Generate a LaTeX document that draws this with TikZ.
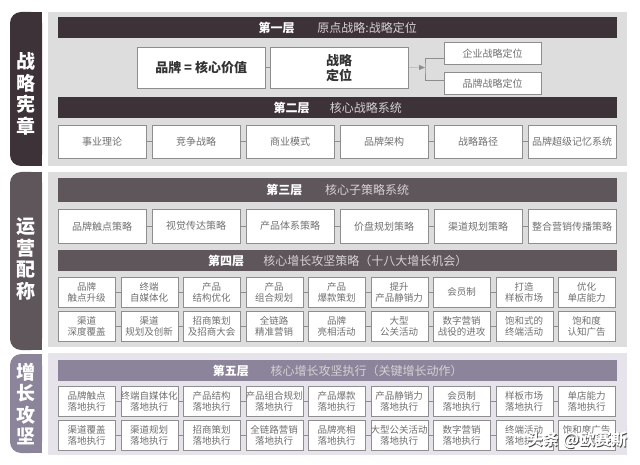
\documentclass[tikz,border=0pt]{standalone}
\usepackage{fontspec}
\setmainfont{Noto Sans CJK SC}
\usepackage{xcolor}
\usepackage{tikz}
\usetikzlibrary{positioning,calc,arrows.meta}
\definecolor{tabone}{HTML}{3C3237}
\definecolor{tabtwo}{HTML}{5F565B}
\definecolor{tabthree}{HTML}{8B849A}
\definecolor{panelbg}{HTML}{DDDDDD}
\definecolor{panelbgc}{HTML}{E6E4EA}
\definecolor{boxline}{HTML}{8E8E8E}
\definecolor{boxtext}{HTML}{707070}
\definecolor{hdrrest}{HTML}{D6D1D4}

\begin{document}
\begin{tikzpicture}[x=1pt,y=-1pt,
                every node/.append style = {inner sep=0pt},
                tabtext/.style = {text=white,align=center,font=\fontsize{19}{21.5}\selectfont\bfseries},
                bar/.style = {anchor=north west,minimum width=559pt,minimum height=21pt,text=white,font=\fontsize{12}{14}\selectfont},
                keybox/.style = {anchor=north west,draw=boxline,fill=white,minimum height=41pt,align=center,text=black!80,font=\fontsize{13}{15}\selectfont\bfseries},
                bigbox/.style = {anchor=north west,draw=boxline,fill=white,minimum width=88pt,minimum height=33pt,text=boxtext,font=\fontsize{10}{12}\selectfont},
                smallbox/.style = {anchor=north west,draw=boxline,fill=white,minimum width=57pt,minimum height=30pt,align=center,text=boxtext,font=\fontsize{9.5}{11.5}\selectfont},
                link/.style = {draw=boxline}]
            \useasboundingbox (0,0) rectangle (640,465);
            % side tabs and panels
            \fill[tabone,rounded corners=11pt] (10,12) rectangle (42,166);
            \fill[tabone] (26,12) rectangle (42,166);
            \fill[tabtwo,rounded corners=11pt] (10,172) rectangle (42,350);
            \fill[tabtwo] (26,172) rectangle (42,350);
            \fill[tabthree,rounded corners=11pt] (10,354) rectangle (42,453);
            \fill[tabthree] (26,354) rectangle (42,453);
            \fill[panelbg] (48,12) rectangle (627,166);
            \fill[panelbg] (48,172) rectangle (627,347);
            \fill[panelbgc] (48,353) rectangle (627,455);
            \node[tabtext] (ta) at (26,94) {战\\略\\宪\\章};
            \node[tabtext] (tb) at (26,259) {运\\营\\配\\称};
            \node[tabtext] (tc) at (26,404) {增\\长\\攻\\坚};
            % first layer
            \node[bar,fill=tabone] (h1) at (58,17) {\textbf{第一层}\hspace{1.9em}{\color{hdrrest}原点战略:战略定位}};
            \node[keybox,minimum width=128pt] (core) at (137,47) {品牌 = 核心价值};
            \node[keybox,minimum width=138pt] (pos) at (270,47) {战略\\定位};
            \draw[link] (core) -- (pos);
            \node[bigbox,minimum width=97pt,minimum height=22pt] (q1) at (444,42) {企业战略定位};
            \node[bigbox,minimum width=97pt,minimum height=22pt,below=8pt of q1] (q2) {品牌战略定位};
            \coordinate (fork) at (425,67.5);
            \draw[link,-{Triangle[length=6pt,width=5pt]},boxline] (pos) -- (fork);
            \draw[link] ($(q1.west)+(0,5)$) -| (fork) |- ($(q2.west)+(0,-3)$);
            % second layer
            \node[bar,fill=tabone] (h2) at (58,97) {\textbf{第二层}\hspace{1.7em}{\color{hdrrest}核心战略系统}};
            \foreach \name [count=\i from 0] in {事业理论,竞争战略,商业模式,品牌架构,战略路径,品牌超级记忆系统}
                \node[bigbox] (s\i) at ({58+94*\i},125) {\name};
            % third layer
            \node[bar,fill=tabtwo,minimum height=24pt] (h3) at (58,178) {\textbf{第三层}\hspace{1.9em}{\color{hdrrest}核心子策略系统}};
            \foreach \name [count=\i from 0] in {品牌触点策略,视觉传达策略,产品体系策略,价盘规划策略,渠道规划策略,整合营销传播策略}
                \node[bigbox,minimum height=34pt] (c\i) at ({58+94*\i},209) {\name};
            % fourth layer
            \node[bar,fill=tabtwo] (h4) at (58,250) {\textbf{第四层}\hspace{1.6em}{\color{hdrrest}核心增长攻坚策略（十八大增长机会）}};
            \foreach \name [count=\i from 0] in {品牌\\触点升级,终端\\自媒体化,产品\\结构优化,产品\\组合规划,产品\\爆款策划,提升\\产品静销力,会员制,打造\\样板市场,优化\\单店能力}
                \node[smallbox] (g\i) at ({58+62.5*\i},277) {\name};
            \foreach \name [count=\i from 0] in {渠道\\深度覆盖,渠道\\规划及创新,招商策划\\及招商大会,全链路\\精准营销,品牌\\亮相活动,大型\\公关活动,数字营销\\战役的进攻,饱和式的\\终端活动,饱和度\\认知广告}
                \node[smallbox] (k\i) at ({58+62.5*\i},311) {\name};
            % fifth layer
            \node[bar,fill=tabthree] (h5) at (58,360) {\textbf{第五层}\hspace{1.8em}{\color{hdrrest}核心增长攻坚执行（关键增长动作）}};
            \foreach \name [count=\i from 0] in {品牌触点,终端自媒体化,产品结构,产品组合规划,产品爆款,产品静销力,会员制,样板市场,单店能力}
                \node[smallbox] (e\i) at ({58+62.5*\i},386) {\name\\落地执行};
            \foreach \name [count=\i from 0] in {渠道覆盖,渠道规划,招商策划,全链路营销,品牌亮相,大型公关活动,数字营销,终端活动,饱和度广告}
                \node[smallbox] (f\i) at ({58+62.5*\i},420) {\name\\落地执行};
            % links between neighbours
            \foreach \i in {1,...,5}{
                \pgfmathtruncatemacro\j{\i-1}
                \draw[link] (s\j) -- (s\i);
                \draw[link] (c\j) -- (c\i);
            }
            \foreach \i in {1,...,8}{
                \pgfmathtruncatemacro\j{\i-1}
                \draw[link] (g\j) -- (g\i);
                \draw[link] (k\j) -- (k\i);
                \draw[link] (e\j) -- (e\i);
                \draw[link] (f\j) -- (f\i);
            }
            % watermark
            \node[text=black!75,font=\fontsize{16}{16}\selectfont\bfseries] (wmshade) at (577.8,440.8) {头条 @欧赛斯};
            \node[text=white,font=\fontsize{16}{16}\selectfont\bfseries] (wm) at (577,440) {头条 @欧赛斯};
            \end{tikzpicture}
\end{document}
